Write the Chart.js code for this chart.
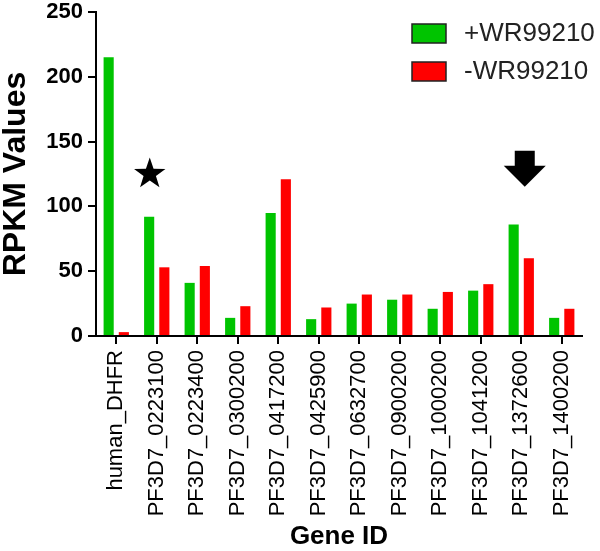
<!DOCTYPE html>
<html>
<head>
<meta charset="utf-8">
<script src="https://cdn.jsdelivr.net/npm/chart.js@4"></script>
<style>
  html, body { margin: 0; padding: 0; background: #fff; }
  #wrap { width: 600px; height: 551px; }
</style>
</head>
<body>
<div id="wrap"><canvas id="rpkmChart" width="600" height="551"></canvas></div>
<script>
"use strict";

var geneIds = ['human_DHFR', 'PF3D7_0223100', 'PF3D7_0223400', 'PF3D7_0300200',
    'PF3D7_0417200', 'PF3D7_0425900', 'PF3D7_0632700', 'PF3D7_0900200',
    'PF3D7_1000200', 'PF3D7_1041200', 'PF3D7_1372600', 'PF3D7_1400200'];
var plusWR = [215, 92, 41, 14, 95, 13, 25, 28, 21, 35, 86, 14];
var minusWR = [3, 53, 54, 23, 121, 22, 32, 32, 34, 40, 60, 21];
var yTicks = [0, 50, 100, 150, 200, 250];

// markers drawn above bars: star on 0223100, arrow on 1372600
var starMark = { gene: 'PF3D7_0223100', value: 125 };
var arrowMark = { gene: 'PF3D7_1372600', value: 126 };

var FONT = "'Liberation Sans', Arial, sans-serif";

var markersPlugin = {
    id: 'markers',
    afterDatasetsDraw: function (chart) {
        var c = chart.ctx;
        var xs = chart.scales.x, ys = chart.scales.y;
        c.save();
        c.fillStyle = '#000';

        // star
        var sx = xs.getPixelForValue(geneIds.indexOf(starMark.gene)) - 7;
        var sy = ys.getPixelForValue(starMark.value);
        var R = 16.5, r = 6.5;
        c.beginPath();
        for (var i = 0; i < 10; i++) {
            var rad = i % 2 === 0 ? R : r;
            var a = -Math.PI / 2 + i * Math.PI / 5;
            var px = sx + rad * Math.cos(a), py = sy + rad * Math.sin(a);
            if (i === 0) c.moveTo(px, py); else c.lineTo(px, py);
        }
        c.closePath();
        c.fill();

        // arrow pointing down
        var ax = xs.getPixelForValue(geneIds.indexOf(arrowMark.gene)) + 3.5;
        var ay = ys.getPixelForValue(arrowMark.value);
        c.beginPath();
        c.moveTo(ax - 10, ay - 22);
        c.lineTo(ax + 10, ay - 22);
        c.lineTo(ax + 10, ay - 7);
        c.lineTo(ax + 21, ay - 7);
        c.lineTo(ax, ay + 14);
        c.lineTo(ax - 21, ay - 7);
        c.lineTo(ax - 10, ay - 7);
        c.closePath();
        c.fill();

        // legend
        var sets = chart.data.datasets;
        c.font = '26px ' + FONT;
        c.textBaseline = 'middle';
        c.textAlign = 'left';
        for (var k = 0; k < sets.length; k++) {
            var top = 24 + k * 38;
            c.fillStyle = sets[k].backgroundColor;
            c.fillRect(412, top, 34, 19);
            c.strokeStyle = '#222';
            c.lineWidth = 1.5;
            c.strokeRect(412, top, 34, 19);
            c.fillStyle = '#222';
            c.fillText(sets[k].label, 464, top + 10);
        }
        c.restore();
    }
};

var ctx = document.getElementById('rpkmChart').getContext('2d');
new Chart(ctx, {
    type: 'bar',
    data: {
        labels: geneIds,
        datasets: [{
            label: '+WR99210',
            data: plusWR,
            backgroundColor: '#00c400',
            borderWidth: 0
        }, {
            label: '-WR99210',
            data: minusWR,
            backgroundColor: '#ff0000',
            borderWidth: 0
        }]
    },
    options: {
        responsive: false,
        animation: false,
        devicePixelRatio: 1,
        categoryPercentage: 0.75,
        barPercentage: 0.667,
        layout: { padding: { left: 0, right: 18, top: 12, bottom: 0 } },
        plugins: {
            legend: { display: false },
            tooltip: { enabled: false }
        },
        scales: {
            x: {
                offset: true,
                afterFit: function (s) { s.height = 215; s.paddingLeft = 0; s.paddingRight = 0; },
                grid: { offset: false, drawOnChartArea: false, drawTicks: true, tickLength: 8, color: '#000', lineWidth: 2 },
                border: { color: '#000', width: 2 },
                ticks: {
                    color: '#000',
                    font: { family: FONT, size: 22 },
                    minRotation: 90,
                    maxRotation: 90,
                    padding: 6,
                    autoSkip: false
                },
                title: {
                    display: true,
                    text: 'Gene ID',
                    color: '#000',
                    font: { family: FONT, size: 26, weight: 'bold', lineHeight: 1 },
                    padding: { top: 0, bottom: 1 }
                }
            },
            y: {
                min: 0,
                max: 250,
                afterFit: function (s) { s.width = 96; s.paddingTop = 0; s.paddingBottom = 0; },
                afterBuildTicks: function (s) {
                    s.ticks = yTicks.map(function (v) { return { value: v }; });
                },
                grid: { drawOnChartArea: false, drawTicks: true, tickLength: 8, color: '#000', lineWidth: 2 },
                border: { color: '#000', width: 2 },
                ticks: {
                    color: '#000',
                    font: { family: FONT, size: 22, weight: 'bold' },
                    padding: 5
                },
                title: {
                    display: true,
                    text: 'RPKM Values',
                    color: '#000',
                    font: { family: FONT, size: 32, weight: 'bold', lineHeight: 1 },
                    padding: { top: 0, bottom: 0 }
                }
            }
        }
    },
    plugins: [markersPlugin]
});
</script>
</body>
</html>
